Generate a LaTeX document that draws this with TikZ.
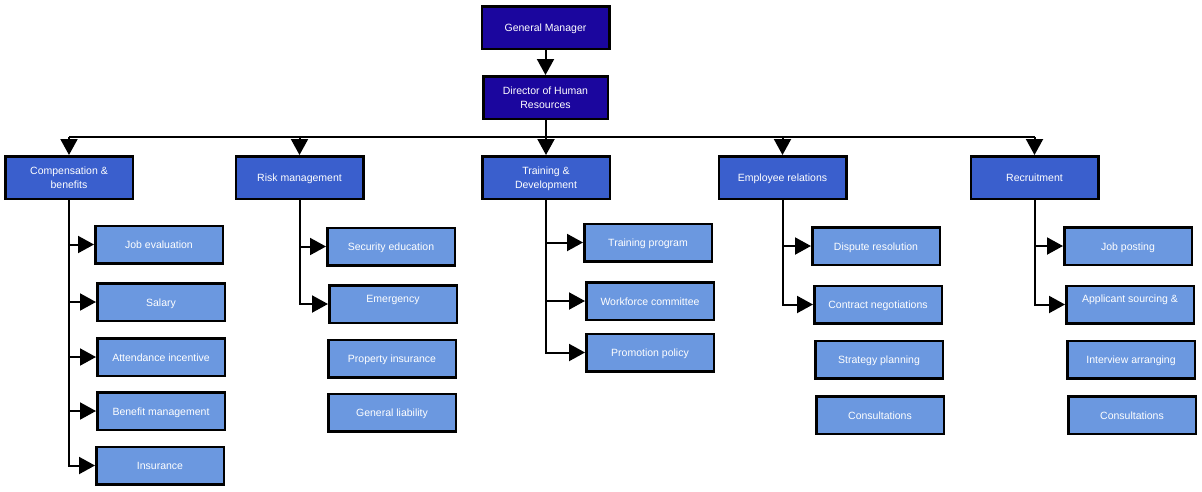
\documentclass[tikz,border=0pt]{standalone}
\usepackage{fontspec}
\setmainfont{Liberation Sans}
\usetikzlibrary{arrows.meta}
\definecolor{topblue}{HTML}{1B069E}
\definecolor{midblue}{HTML}{3A5FCD}
\definecolor{lowblue}{HTML}{6B98E0}
\begin{document}
\begin{tikzpicture}[x=1pt,y=-1pt,
  box/.style={draw=black,line width=2.5pt,text=white,inner sep=0pt,align=center,
    font=\fontsize{10.5}{14}\selectfont,text height=10.6pt,text depth=2pt},
  topbox/.style={box,fill=topblue,minimum width=127pt,minimum height=42.5pt},
  midbox/.style={box,fill=midblue,minimum width=127.5pt,minimum height=42.5pt},
  lowbox/.style={box,fill=lowblue,minimum width=127.5pt,minimum height=37.5pt},
  raised/.style={text depth=14pt},
  twoline/.style={text height=24.6pt},
  link/.style={draw=black,line width=2pt},
  arr/.style={link,-{Triangle[width=17pt,length=16pt]}}]
\useasboundingbox (0,0) rectangle (1202,491);
% top
\node[topbox,minimum width=127.5pt] (gm) at (545.5,27.5) {General Manager};
\node[topbox,twoline,minimum width=124.5pt] (dir) at (545.5,97.5) {Director of Human\\Resources};
% level 2
\node[midbox,twoline] (comp) at (69,177.5) {Compensation \&\\benefits};
\node[midbox] (risk) at (299.5,177.5) {Risk management};
\node[midbox,twoline] (train) at (546,177.5) {Training \&\\Development};
\node[midbox] (emp) at (782.5,177.5) {Employee relations};
\node[midbox] (rec) at (1034.5,177.5) {Recruitment};
% level 3
\node[lowbox] (je) at (159,244.5) {Job evaluation};
\node[lowbox] (sal) at (161,302) {Salary};
\node[lowbox] (att) at (161,357) {Attendance incentive};
\node[lowbox] (ben) at (161,411) {Benefit management};
\node[lowbox] (ins) at (160,465.5) {Insurance};
\node[lowbox] (sec) at (391,246.5) {Security education};
\node[lowbox,raised] (emg) at (393,304) {Emergency};
\node[lowbox] (prop) at (392,358.5) {Property insurance};
\node[lowbox] (gl) at (392,412.5) {General liability};
\node[lowbox] (tp) at (648,242.5) {Training program};
\node[lowbox] (wc) at (650,301) {Workforce committee};
\node[lowbox] (pp) at (650,352.5) {Promotion policy};
\node[lowbox] (dr) at (876,246) {Dispute resolution};
\node[lowbox] (cn) at (878,304.5) {Contract negotiations};
\node[lowbox] (sp) at (879,359.5) {Strategy planning};
\node[lowbox] (con1) at (880,415) {Consultations};
\node[lowbox] (jp) at (1128,246) {Job posting};
\node[lowbox,raised] (as) at (1130,304.5) {Applicant sourcing \&};
\node[lowbox] (ia) at (1131,359.5) {Interview arranging};
\node[lowbox] (con2) at (1132,415) {Consultations};
% connectors top
\coordinate (bus) at (545.5,137);
\draw[arr] (gm) -- (dir);
\draw[link] (dir.south) -- (dir.south |- bus);
\draw[link] (comp.north |- bus) -- (rec.north |- bus);
\foreach \n in {comp,risk,train,emp,rec}
  \draw[arr] (\n.north |- bus) -- (\n.north);
% compensation
\draw[arr] (comp.south) |- (ins.west);
\foreach \c in {je,sal,att,ben}
  \draw[arr] (comp.south |- \c.west) -- (\c.west);
% risk
\draw[arr] (risk.south) |- (emg.west);
\draw[arr] (risk.south |- sec.west) -- (sec.west);
% training
\draw[arr] (train.south) |- (pp.west);
\draw[arr] (train.south |- tp.west) -- (tp.west);
\draw[arr] (train.south |- wc.west) -- (wc.west);
% employee relations
\draw[arr] (emp.south) |- (cn.west);
\draw[arr] (emp.south |- dr.west) -- (dr.west);
% recruitment
\draw[arr] (rec.south) |- (as.west);
\draw[arr] (rec.south |- jp.west) -- (jp.west);
\end{tikzpicture}
\end{document}
